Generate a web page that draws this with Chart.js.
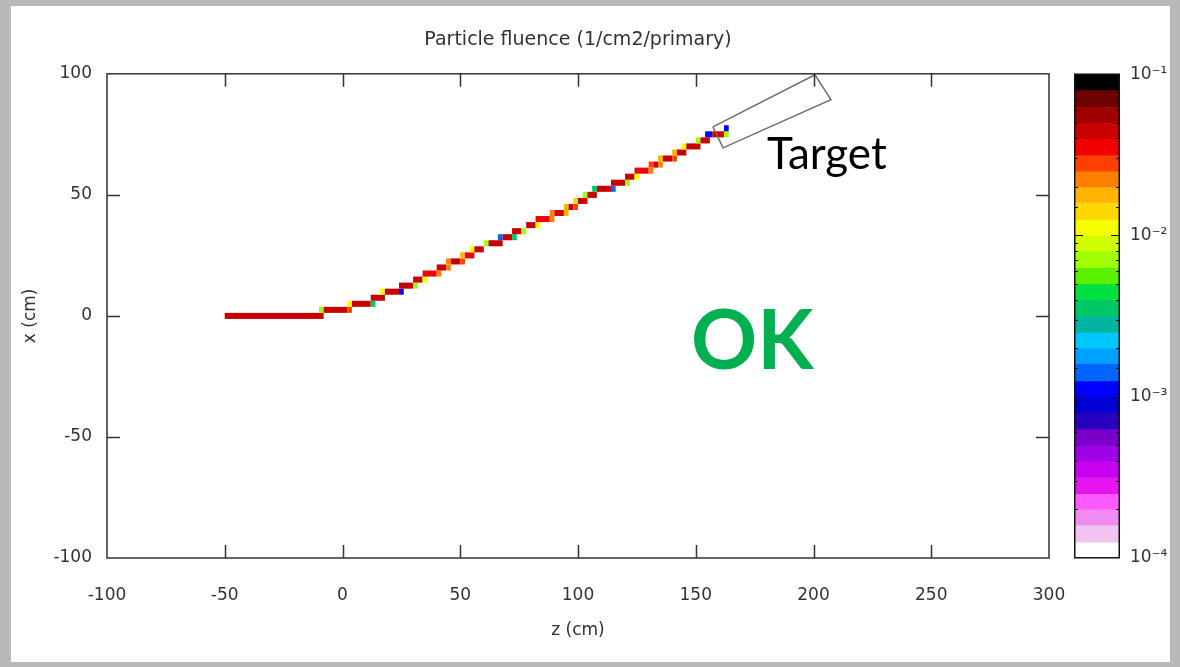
<!DOCTYPE html>
<html>
<head>
<meta charset="utf-8">
<script src="https://cdn.jsdelivr.net/npm/chart.js@4.4.1/dist/chart.umd.min.js"></script>
<style>
  html, body { margin: 0; padding: 0; }
  body { width: 1180px; height: 667px; background: #b9b9b9; position: relative; overflow: hidden; }
  #sheet { position: absolute; left: 11px; top: 6px; width: 1159px; height: 656px; background: #fff; }
  #main { position: absolute; left: 0; top: 0; }
  #cbar { position: absolute; left: 1074px; top: 54px; }
  .label { position: absolute; font-family: Lato, "Open Sans", sans-serif; white-space: nowrap; }
  #target { left: 767px; top: 126px; font-size: 44px; color: #000; }
  #ok { left: 691px; top: 288px; font-size: 82px; font-weight: bold; color: #00b050; }
</style>
</head>
<body>
<div id="sheet"></div>
<canvas id="main" width="1180" height="667"></canvas>
<canvas id="cbar" width="106" height="524"></canvas>
<div class="label" id="target">Target</div>
<div class="label" id="ok">OK</div>
<script>
// axis ticks
const zTicks = [-100, -50, 0, 50, 100, 150, 200, 250, 300];
const xTicks = [-100, -50, 0, 50, 100];

// beam cells: [z start, z end, x row centre, fluence]
const beamCells = [
  [-50, -8, 0, 0.045],
  [-10, -8, 2.5, 0.007], [-8, 2, 2.5, 0.045], [2, 4, 2.5, 0.028],
  [2, 4, 5, 0.011], [4, 12, 5, 0.045], [12, 14, 5, 0.0035],
  [12, 18, 7.5, 0.045],
  [16, 18, 10, 0.011], [18, 24, 10, 0.045], [24, 26, 10, 0.0011],
  [24, 30, 12.5, 0.045], [30, 32, 12.5, 0.007],
  [30, 34, 15, 0.045], [34, 36, 15, 0.011],
  [34, 40, 17.5, 0.038], [40, 42, 17.5, 0.022],
  [40, 44, 20, 0.045], [44, 46, 20, 0.022],
  [44, 46, 22.5, 0.022], [46, 50, 22.5, 0.045], [50, 52, 22.5, 0.028],
  [50, 52, 25, 0.018], [52, 56, 25, 0.038],
  [54, 56, 27.5, 0.011], [56, 60, 27.5, 0.045],
  [60, 62, 30, 0.007], [62, 68, 30, 0.045],
  [66, 68, 32.5, 0.0014], [68, 72, 32.5, 0.045], [72, 74, 32.5, 0.0035],
  [72, 76, 35, 0.045], [76, 78, 35, 0.007],
  [78, 82, 37.5, 0.045], [82, 84, 37.5, 0.011],
  [82, 88, 40, 0.038], [88, 90, 40, 0.022],
  [88, 90, 42.5, 0.022], [90, 94, 42.5, 0.045], [94, 96, 42.5, 0.018],
  [94, 96, 45, 0.018], [96, 98, 45, 0.045], [98, 100, 45, 0.028],
  [98, 100, 47.5, 0.014], [100, 104, 47.5, 0.045],
  [102, 104, 50, 0.007], [104, 108, 50, 0.045],
  [106, 108, 52.5, 0.0035], [108, 114, 52.5, 0.045], [114, 116, 52.5, 0.0014],
  [114, 120, 55, 0.045], [120, 122, 55, 0.007],
  [120, 124, 57.5, 0.045], [124, 126, 57.5, 0.011],
  [124, 130, 60, 0.038], [130, 132, 60, 0.022],
  [130, 132, 62.5, 0.028], [132, 134, 62.5, 0.045], [134, 136, 62.5, 0.022],
  [134, 136, 65, 0.018], [136, 140, 65, 0.045], [140, 142, 65, 0.028],
  [140, 142, 67.5, 0.018], [142, 146, 67.5, 0.045],
  [144, 146, 70, 0.011], [146, 152, 70, 0.045],
  [150, 152, 72.5, 0.007], [152, 156, 72.5, 0.045],
  [154, 157, 75, 0.0011], [157, 162, 75, 0.045], [162, 164, 75, 0.007],
  [162, 164, 77.5, 0.0011]
];
const cellHeight = 2.5; // cm, x bin

// target outline corners (z, x in cm)
const targetZ = [157.3, 200.6, 207.4, 161.6, 157.3];
const targetX = [78.1, 99.6, 89.3, 69.4, 78.1];

// colour bar levels (top to bottom) and their colours
const levels = [1e-1, 8e-2, 6.3e-2, 5e-2, 4e-2, 3.15e-2, 2.5e-2, 2e-2, 1.6e-2, 1.25e-2,
  1e-2, 8e-3, 6.3e-3, 5e-3, 4e-3, 3.15e-3, 2.5e-3, 2e-3, 1.6e-3, 1.25e-3,
  1e-3, 8e-4, 6.3e-4, 5e-4, 4e-4, 3.15e-4, 2.5e-4, 2e-4, 1.6e-4, 1.25e-4, 1e-4];
const levelColors = ['#000000', '#6e0000', '#a00000', '#c80000', '#f00000', '#ff4000', '#ff8000', '#ffb400', '#ffd700', '#f5ff00',
  '#d2ff00', '#a0ff00', '#5af000', '#00e040', '#00c864', '#00b4a0', '#00c8ff', '#00a0ff', '#0064ff', '#0000ff',
  '#0000d2', '#2800c0', '#7800c8', '#a000e6', '#c800f0', '#e614f0', '#ff5aff', '#f08cf0', '#f0c3f0', '#ffffff'];

Chart.defaults.font.family = '"DejaVu Sans", sans-serif';
Chart.defaults.color = '#333';
Chart.defaults.animation = false;

function colourFor(v) {
  for (let i = 0; i < levelColors.length; i++) {
    if (v >= levels[i + 1]) return levelColors[i];
  }
  return '#ffffff';
}

// draws the fluence bins through the chart scales
const beamPlugin = {
  id: 'beam',
  beforeDatasetsDraw(chart) {
    const {ctx, scales: {x, y}} = chart;
    ctx.save();
    beamCells.forEach(([z0, z1, row, v]) => {
      const left = x.getPixelForValue(z0), right = x.getPixelForValue(z1);
      const top = y.getPixelForValue(row + cellHeight / 2), bottom = y.getPixelForValue(row - cellHeight / 2);
      ctx.fillStyle = colourFor(v);
      ctx.fillRect(left, top, right - left, bottom - top);
    });
    ctx.restore();
  }
};

// box with inward ticks on all four sides, gnuplot style
const framePlugin = {
  id: 'frame',
  afterDraw(chart) {
    const {ctx, chartArea: a, scales: {x, y}} = chart;
    ctx.save();
    ctx.strokeStyle = '#333';
    ctx.lineWidth = 1.5;
    ctx.beginPath();
    zTicks.slice(1, -1).forEach(t => {
      const px = Math.round(x.getPixelForValue(t)) + 0.5;
      ctx.moveTo(px, a.bottom); ctx.lineTo(px, a.bottom - 13);
      ctx.moveTo(px, a.top); ctx.lineTo(px, a.top + 13);
    });
    xTicks.slice(1, -1).forEach(t => {
      const py = Math.round(y.getPixelForValue(t)) + 0.5;
      ctx.moveTo(a.left, py); ctx.lineTo(a.left + 13, py);
      ctx.moveTo(a.right, py); ctx.lineTo(a.right - 13, py);
    });
    ctx.stroke();
    ctx.strokeRect(a.left, a.top, a.right - a.left, a.bottom - a.top);
    ctx.restore();
  }
};

new Chart(document.getElementById('main'), {
  type: 'scatter',
  data: {
    datasets: [{
      label: 'Target',
      data: targetZ.map((z, i) => ({x: z, y: targetX[i]})),
      showLine: true,
      borderColor: '#6e6e6e',
      borderWidth: 1.5,
      pointRadius: 0,
      tension: 0
    }]
  },
  options: {
    responsive: false,
    layout: {padding: {top: 0, right: 131, bottom: 0, left: 0}},
    plugins: {
      legend: {display: false},
      tooltip: {enabled: false},
      title: {
        display: true,
        text: 'Particle fluence (1/cm2/primary)',
        fullSize: false,
        font: {size: 19, weight: 'normal'},
        color: '#333',
        padding: {top: 29, bottom: 22}
      }
    },
    scales: {
      x: {
        type: 'linear',
        min: -100, max: 300,
        afterBuildTicks: s => { s.ticks = zTicks.map(v => ({value: v})); },
        grid: {display: false, drawTicks: false},
        border: {display: false},
        ticks: {font: {size: 17}, padding: 27, maxRotation: 0},
        title: {display: true, text: 'z (cm)', font: {size: 17}, padding: {top: 0, bottom: 26}},
        afterFit: s => { s.height = 109; }
      },
      y: {
        type: 'linear',
        min: -100, max: 100,
        afterBuildTicks: s => { s.ticks = xTicks.map(v => ({value: v})); },
        grid: {display: false, drawTicks: false},
        border: {display: false},
        ticks: {font: {size: 17}, padding: 15},
        title: {display: true, text: 'x (cm)', font: {size: 17}, padding: {top: 20, bottom: 0}},
        afterFit: s => { s.width = 107; }
      }
    }
  },
  plugins: [beamPlugin, framePlugin]
});

// colour bar: one floating bar per level band on a log axis
const supers = {'-1': '⁻¹', '-2': '⁻²', '-3': '⁻³', '-4': '⁻⁴'};
const cbarTicks = {
  id: 'cbarTicks',
  afterDraw(chart) {
    const {ctx, chartArea: a, scales: {y}} = chart;
    ctx.save();
    ctx.strokeStyle = '#111';
    ctx.lineWidth = 1;
    ctx.beginPath();
    y.ticks.forEach(t => {
      const e = Math.log10(t.value);
      const major = Math.abs(e - Math.round(e)) < 1e-6;
      if (major && (t.value >= 0.1 || t.value <= 1e-4)) return;
      const len = major ? 9 : 4;
      const py = Math.round(y.getPixelForValue(t.value)) + 0.5;
      ctx.moveTo(a.left, py); ctx.lineTo(a.left + len, py);
      ctx.moveTo(a.right, py); ctx.lineTo(a.right - len, py);
    });
    ctx.stroke();
    ctx.lineWidth = 1.5;
    ctx.strokeRect(a.left + 0.75, a.top, a.right - a.left - 1.5, a.bottom - a.top);
    ctx.restore();
  }
};

new Chart(document.getElementById('cbar'), {
  type: 'bar',
  data: {
    labels: [''],
    datasets: levelColors.map((c, i) => ({
      data: [[levels[i + 1], levels[i]]],
      backgroundColor: c,
      borderWidth: 0,
      grouped: false,
      barPercentage: 1,
      categoryPercentage: 1
    }))
  },
  options: {
    responsive: false,
    layout: {padding: 0},
    plugins: {legend: {display: false}, tooltip: {enabled: false}},
    scales: {
      x: {display: false},
      y: {
        type: 'logarithmic',
        position: 'right',
        min: 1e-4, max: 1e-1,
        grid: {display: false, drawTicks: false},
        border: {display: false},
        ticks: {
          autoSkip: false,
          padding: 10,
          font: {size: 17},
          callback: v => {
            const e = Math.round(Math.log10(v));
            return Math.abs(Math.log10(v) - e) < 1e-6 ? '10' + supers[e] : '';
          }
        },
        afterFit: s => { s.width = 60; }
      }
    }
  },
  plugins: [cbarTicks]
});
</script>
</body>
</html>
